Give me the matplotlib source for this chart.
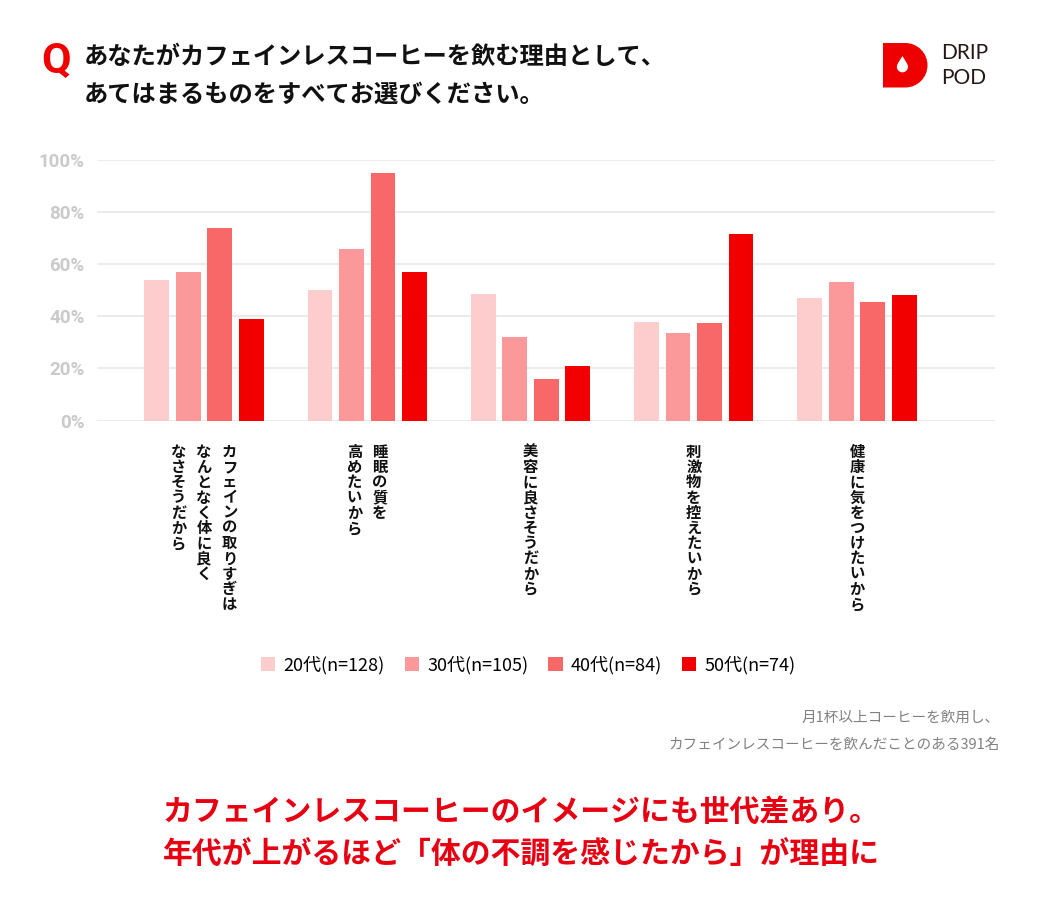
import matplotlib.pyplot as plt
from matplotlib.patches import Rectangle, PathPatch, Circle, Polygon
from matplotlib.path import Path

plt.rcParams['font.family'] = ['Noto Sans CJK JP', 'DejaVu Sans']

# データ
categories = [
    ['カフェインの取りすぎは', 'なんとなく体に良く', 'なさそうだから'],
    ['睡眠の質を', '高めたいから'],
    ['美容に良さそうだから'],
    ['刺激物を控えたいから'],
    ['健康に気をつけたいから'],
]
groups = ['20代(n=128)', '30代(n=105)', '40代(n=84)', '50代(n=74)']
v20 = [54, 50, 48.6, 38, 47]
v30 = [57, 66, 32, 33.7, 53]
v40 = [74, 95, 16, 37.3, 45.3]
v50 = [39, 57, 21, 71.5, 48.3]
yticks = [0, 20, 40, 60, 80, 100]

colors = ['#FDCDCE', '#FB999A', '#F86868', '#F20000']
RED = '#E60012'
W, H = 1042, 917

fig = plt.figure(figsize=(W / 100, H / 100), dpi=100)

# --- グラフ本体 ---
ax = fig.add_axes([97 / W, (H - 420.5) / H, 898 / W, 260.5 / H])
series = [v20, v30, v40, v50]
bw = 0.151
pitch = 0.193
for i, vals in enumerate(series):
    xs = [c + (i - 1.5) * pitch for c in range(len(categories))]
    ax.bar(xs, vals, width=bw, color=colors[i], zorder=3, label=groups[i])

ax.set_xlim(-0.655, 4.845)
ax.set_ylim(0, 100)
ax.set_yticks(yticks)
ax.set_yticklabels([f'{t}%' for t in yticks], family=['Roboto', 'DejaVu Sans'],
                   fontweight='bold', fontsize=13.5, color='#CACACA')
ax.tick_params(axis='y', length=0, pad=9)
ax.set_xticks([])
ax.grid(axis='y', color='#E6E6E6', linewidth=1.1, zorder=0)
for s in ax.spines.values():
    s.set_visible(False)

# 縦書きのカテゴリ名
for i, lines in enumerate(categories):
    n = len(lines)
    for j, line in enumerate(lines):
        dx = ((n - 1) / 2 - j) * 25.5
        for k, ch in enumerate(line):
            ax.annotate(ch, xy=(i, 0), xycoords=('data', 'axes fraction'),
                        xytext=(dx, -31.5 - k * 15.2), textcoords='offset pixels',
                        ha='center', va='center', fontsize=11, fontweight='bold',
                        color='#111111', annotation_clip=False)

# --- タイトル ---
fig.text(41 / W, 1 - 61 / H, 'Q', color='#F00000', fontsize=31, fontweight='bold',
         family=['Roboto', 'DejaVu Sans'], va='center', ha='left')
fig.text(84 / W, 1 - 57 / H, 'あなたがカフェインレスコーヒーを飲む理由として、',
         fontsize=17.5, fontweight='bold', color='#111111', va='center')
fig.text(84 / W, 1 - 95 / H, 'あてはまるものをすべてお選びください。',
         fontsize=17.5, fontweight='bold', color='#111111', va='center')

# --- ロゴ ---
lax = fig.add_axes([883 / W, (H - 87.5) / H, 44.5 / W, 44.5 / H])
lax.set_xlim(0, 44)
lax.set_ylim(0, 44)
lax.axis('off')
verts = [(0, 0), (22, 0), (34.2, 0), (44, 9.8), (44, 22), (44, 34.2), (34.2, 44), (22, 44), (0, 44), (0, 0)]
codes = [Path.MOVETO, Path.LINETO, Path.CURVE4, Path.CURVE4, Path.CURVE4,
         Path.CURVE4, Path.CURVE4, Path.CURVE4, Path.LINETO, Path.CLOSEPOLY]
lax.add_patch(PathPatch(Path(verts, codes), facecolor='#EE0000', edgecolor='none'))
lax.add_patch(Circle((19.2, 20.5), 5.5, facecolor='white', edgecolor='none'))
lax.add_patch(Polygon([(14.6, 23.5), (19.2, 31.2), (23.8, 23.5)], closed=True,
                      facecolor='white', edgecolor='none'))
fig.text(941 / W, 1 - 53 / H, 'DRIP', fontsize=15, color='#231815',
         family=['Lato', 'DejaVu Sans'], va='center', ha='left')
fig.text(941 / W, 1 - 77.5 / H, 'POD', fontsize=15, color='#231815',
         family=['Lato', 'DejaVu Sans'], va='center', ha='left')

# --- 凡例 ---
handles = [Rectangle((0, 0), 1, 1, facecolor=c, edgecolor='none') for c in colors]
fig.legend(handles, groups, loc='center', bbox_to_anchor=(0.507, 1 - 665 / H), ncol=4,
           frameon=False, fontsize=13, handlelength=0.8, handleheight=0.8,
           handletextpad=0.45, columnspacing=1.1)

# --- 注記 ---
fig.text(1000 / W, 1 - 718 / H, '月1杯以上コーヒーを飲用し、', ha='right', va='center',
         fontsize=10.5, color='#808080')
fig.text(1000 / W, 1 - 745 / H, 'カフェインレスコーヒーを飲んだことのある391名', ha='right',
         va='center', fontsize=10.5, color='#808080')

# --- まとめ ---
fig.text(0.5, 1 - 812 / H, 'カフェインレスコーヒーのイメージにも世代差あり。', ha='center',
         va='center', fontsize=21.5, fontweight='bold', color=RED)
fig.text(0.5, 1 - 855 / H, '年代が上がるほど「体の不調を感じたから」が理由に', ha='center',
         va='center', fontsize=21.5, fontweight='bold', color=RED)

fig.savefig('out.png', dpi=100, facecolor='white')
